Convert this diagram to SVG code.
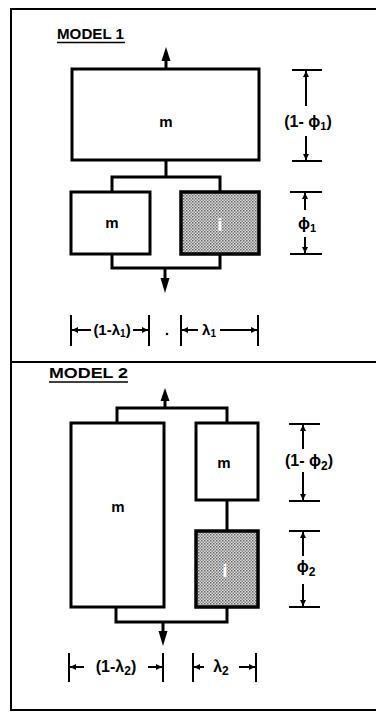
<svg xmlns="http://www.w3.org/2000/svg" width="376" height="712" viewBox="0 0 376 712">
<style>
.frame{stroke:#000;stroke-width:2;fill:none}
.box{fill:#fff;stroke:#000;stroke-width:3}
.shade{fill:url(#dots);stroke:#000;stroke-width:3.5}
.wire{fill:none;stroke:#000;stroke-width:3}
.dim{fill:none;stroke:#000;stroke-width:2}
.head{fill:#000}
text{font-family:"Liberation Sans","DejaVu Sans",Arial,sans-serif;font-weight:bold;fill:#000}
.lbl{font-size:15px;text-anchor:middle}
.dl{font-size:16px;text-anchor:middle}
.ttl{font-size:15px}
.wt{fill:#fff;font-size:19px;text-anchor:middle}
</style>
<defs>
<pattern id="dots" width="3" height="3" patternUnits="userSpaceOnUse">
<rect width="3" height="3" fill="#dcdcdc"/>
<rect width="1.5" height="1.5" fill="#666"/>
<rect x="1.5" y="1.5" width="1.5" height="1.5" fill="#888"/>
</pattern>
<marker id="dh" viewBox="0 0 10 10" refX="10" refY="5" markerWidth="7" markerHeight="6" orient="auto-start-reverse" markerUnits="userSpaceOnUse">
<path d="M0,0 L10,5 L0,10 Z" fill="#000"/>
</marker>
</defs>

<g id="frame">
<line class="frame" x1="11" y1="9" x2="11" y2="711"/>
<line class="frame" x1="10" y1="9" x2="376" y2="9"/>
<line class="frame" x1="10" y1="710" x2="376" y2="710"/>
<line class="frame" x1="10" y1="362" x2="376" y2="362"/>
</g>

<g id="title1">
<text class="ttl" x="57" y="39" textLength="67" lengthAdjust="spacingAndGlyphs">MODEL 1</text>
<line x1="57" y1="42.5" x2="125" y2="42.5" stroke="#000" stroke-width="1.6"/>
</g>
<g id="title2">
<text class="ttl" x="49" y="378" textLength="79" lengthAdjust="spacingAndGlyphs">MODEL 2</text>
<line x1="49" y1="382" x2="128" y2="382" stroke="#000" stroke-width="1.6"/>
</g>

<g id="connectors">
<line class="wire" x1="166" y1="69" x2="166" y2="58"/>
<polygon class="head" points="166,47 161.5,61 170.5,61"/>
<line class="wire" x1="166" y1="160" x2="166" y2="177"/>
<path class="wire" d="M112,192 V177 H220 V192"/>
<path class="wire" d="M112,254 V268 H220 V254"/>
<line class="wire" x1="165" y1="268" x2="165" y2="280"/>
<polygon class="head" points="165,293 160.5,278 169.5,278"/>

<line class="wire" x1="165" y1="408" x2="165" y2="398"/>
<polygon class="head" points="165,388 160.5,401 169.5,401"/>
<path class="wire" d="M117,423 V408 H227 V423"/>
<line class="wire" x1="227" y1="500" x2="227" y2="531"/>
<path class="wire" d="M116,607 V622 H227 V607"/>
<line class="wire" x1="163" y1="622" x2="163" y2="632"/>
<polygon class="head" points="163,646 158.5,631 167.5,631"/>
</g>

<g id="m1-top">
<rect class="box" x="72" y="69" width="187" height="91"/>
<text class="lbl" x="166" y="127">m</text>
</g>
<g id="m1-left">
<rect class="box" x="71" y="192" width="79" height="62"/>
<text class="lbl" x="112" y="228">m</text>
</g>
<g id="m1-right">
<rect class="shade" x="181" y="192" width="78" height="62"/>
<text class="wt" x="220" y="231">i</text>
</g>

<g id="m2-left">
<rect class="box" x="71" y="423" width="93" height="184"/>
<text class="lbl" x="118" y="512">m</text>
</g>
<g id="m2-top">
<rect class="box" x="196" y="423" width="62" height="77"/>
<text class="lbl" x="224" y="468">m</text>
</g>
<g id="m2-bottom">
<rect class="shade" x="196" y="531" width="62" height="76"/>
<text class="wt" x="225" y="577">i</text>
</g>

<g id="dim-phi1a">
<line class="dim" x1="292" y1="70" x2="322" y2="70"/>
<line class="dim" x1="292" y1="161" x2="322" y2="161"/>
<line class="dim" x1="306" y1="106" x2="306" y2="71" marker-end="url(#dh)"/>
<line class="dim" x1="306" y1="136" x2="306" y2="160" marker-end="url(#dh)"/>
<text class="dl" x="308" y="127">(1- ϕ<tspan font-size="11" dy="3">1</tspan><tspan dy="-3">)</tspan></text>
</g>
<g id="dim-phi1b">
<line class="dim" x1="290" y1="192" x2="322" y2="192"/>
<line class="dim" x1="290" y1="254" x2="322" y2="254"/>
<line class="dim" x1="305" y1="210" x2="305" y2="193" marker-end="url(#dh)"/>
<line class="dim" x1="305" y1="237" x2="305" y2="253" marker-end="url(#dh)"/>
<text class="dl" x="307" y="229">ϕ<tspan font-size="11" dy="3">1</tspan></text>
</g>
<g id="dim-lam1">
<line class="dim" x1="71" y1="315" x2="71" y2="346"/>
<line class="dim" x1="149" y1="315" x2="149" y2="346"/>
<line class="dim" x1="91" y1="330" x2="72" y2="330" marker-end="url(#dh)"/>
<line class="dim" x1="133" y1="330" x2="148" y2="330" marker-end="url(#dh)"/>
<text class="dl" x="112" y="335" style="font-size:15px">(1-λ<tspan font-size="10" dy="2">1</tspan><tspan dy="-2">)</tspan></text>
<circle cx="167" cy="334" r="1.3" fill="#000"/>
<line class="dim" x1="181" y1="315" x2="181" y2="346"/>
<line class="dim" x1="258" y1="315" x2="258" y2="346"/>
<line class="dim" x1="198" y1="330" x2="182" y2="330" marker-end="url(#dh)"/>
<line class="dim" x1="220" y1="330" x2="257" y2="330" marker-end="url(#dh)"/>
<text class="dl" x="209" y="335" style="font-size:15px">λ<tspan font-size="10" dy="2">1</tspan></text>
</g>

<g id="dim-phi2a">
<line class="dim" x1="289" y1="424" x2="320" y2="424"/>
<line class="dim" x1="289" y1="501" x2="320" y2="501"/>
<line class="dim" x1="303" y1="449" x2="303" y2="425" marker-end="url(#dh)"/>
<line class="dim" x1="303" y1="472" x2="303" y2="500" marker-end="url(#dh)"/>
<text class="dl" x="309" y="466">(1- ϕ<tspan font-size="12" dy="4">2</tspan><tspan dy="-4">)</tspan></text>
</g>
<g id="dim-phi2b">
<line class="dim" x1="289" y1="531" x2="320" y2="531"/>
<line class="dim" x1="289" y1="607" x2="320" y2="607"/>
<line class="dim" x1="303" y1="556" x2="303" y2="532" marker-end="url(#dh)"/>
<line class="dim" x1="303" y1="584" x2="303" y2="606" marker-end="url(#dh)"/>
<text class="dl" x="306" y="572">ϕ<tspan font-size="12" dy="4">2</tspan></text>
</g>
<g id="dim-lam2">
<line class="dim" x1="69" y1="653" x2="69" y2="682"/>
<line class="dim" x1="163" y1="653" x2="163" y2="682"/>
<line class="dim" x1="84" y1="667" x2="70" y2="667" marker-end="url(#dh)"/>
<line class="dim" x1="148" y1="667" x2="162" y2="667" marker-end="url(#dh)"/>
<text class="dl" x="116" y="672">(1-λ<tspan font-size="12" dy="3">2</tspan><tspan dy="-3">)</tspan></text>
<line class="dim" x1="193" y1="653" x2="193" y2="682"/>
<line class="dim" x1="256" y1="653" x2="256" y2="682"/>
<line class="dim" x1="204" y1="667" x2="194" y2="667" marker-end="url(#dh)"/>
<line class="dim" x1="239" y1="667" x2="255" y2="667" marker-end="url(#dh)"/>
<text class="dl" x="221" y="672">λ<tspan font-size="12" dy="3">2</tspan></text>
</g>
</svg>
